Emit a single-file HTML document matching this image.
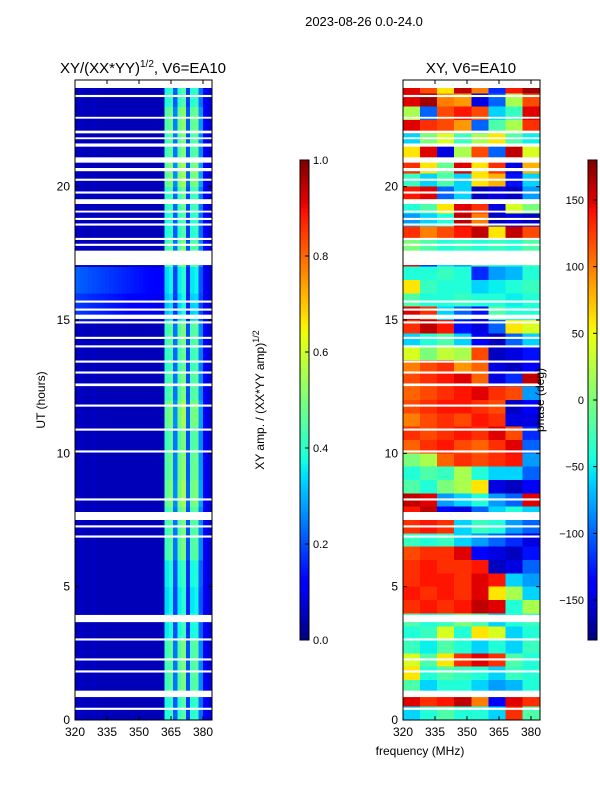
<!DOCTYPE html>
<html><head><meta charset="utf-8"><style>
html,body{margin:0;padding:0;background:#fff;}
svg{display:block;font-family:"Liberation Sans",sans-serif;}
</style></head><body>
<svg id="fig" width="600" height="800" viewBox="0 0 600 800" xmlns="http://www.w3.org/2000/svg">
<text x="364" y="26" font-size="13" text-anchor="middle">2023-08-26 0.0-24.0</text>
<g id="left"></g>
<g id="right"></g>
<g id="cb1"></g>
<g id="cb2"></g>
<text x="143" y="73" font-size="15" text-anchor="middle">XY/(XX*YY)<tspan font-size="10" dy="-6">1/2</tspan><tspan dy="6">, V6=EA10</tspan></text>
<text x="471" y="73" font-size="15" text-anchor="middle">XY, V6=EA10</text>
<text transform="translate(45,400) rotate(-90)" font-size="12" text-anchor="middle">UT (hours)</text>
<text transform="translate(264,400) rotate(-90)" font-size="12" text-anchor="middle">XY amp. / (XX*YY amp)<tspan font-size="9" dy="-5">1/2</tspan></text>
<text transform="translate(544,400) rotate(-90)" font-size="12" text-anchor="middle">phase (deg)</text>
<text x="420" y="755" font-size="12" text-anchor="middle">frequency (MHz)</text>
</svg>
<script>
// ---- data ----
const freqTicks = [320,335,350,365,380];
const hourTicks = [0,5,10,15,20];
const ampTicks = ["0.0","0.2","0.4","0.6","0.8","1.0"];
const phaseTicks = [-150,-100,-50,0,50,100,150];
// flagged (white) hour intervals
const gapStart = [23.36,22.55,22.0,21.78,21.5,20.9,20.58,20.22,19.74,19.35,19.03,18.75,18.54,18.0,17.78,17.06,15.65,15.35,15.04,14.87,14.29,13.97,13.4,12.99,12.52,11.75,10.85,10.03,8.23,7.5,7.22,6.84,3.67,2.98,2.23,1.78,0.86,0.38];
const gapEnd   = [23.44,22.62,22.1,21.85,21.62,21.1,20.7,20.3,19.82,19.53,19.1,18.83,18.62,18.08,17.86,17.6,15.73,15.43,15.2,14.95,14.37,14.05,13.48,13.07,12.62,11.83,10.93,10.11,8.31,7.8,7.3,6.92,3.94,3.06,2.31,1.86,1.1,0.46];
// amplitude: column profile (2 MHz columns 320-384)
const ampCols = [0.05,0.06,0.05,0.05,0.06,0.05,0.05,0.05,0.05,0.05,0.05,0.05,0.05,0.05,0.05,0.05,0.05,0.05,0.05,0.05,0.05,0.42,0.46,0.24,0.45,0.5,0.2,0.44,0.46,0.26,0.1,0.08];
// hourly background level and stripe scaling (hour 0..23)
const ampBg = [0.05,0.05,0.05,0.05,0.05,0.05,0.05,0.05,0.05,0.05,0.05,0.05,0.05,0.05,0.05,0.18,0.22,0.05,0.05,0.05,0.05,0.05,0.05,0.05];
const ampScale = [0.9,1.0,1.0,0.85,0.8,0.85,1.0,1.0,1.1,1.05,1.0,1.1,1.0,0.95,1.0,0.75,0.8,1.0,0.9,0.95,1.1,1.0,1.05,0.9];
// phase matrix: 48 rows (top 23.5-24h first), 8 columns of 8 MHz
const phaseRows = [
[150,120,60,160,100,-120,140,170],[150,170,100,90,-150,-100,20,120],[20,-100,120,140,120,-60,-30,150],
[150,130,120,90,-100,-20,20,130],[-60,0,40,-30,20,60,-20,-50],[60,150,-150,20,120,-100,160,40],
[130,60,-10,150,60,130,-150,80],[-30,-60,-20,-60,60,80,-130,-60],[140,150,-100,-60,-160,-150,-160,-80],
[-40,-20,60,150,130,-150,40,0],[-80,-60,-40,160,100,-160,-150,-160],[130,100,120,140,160,60,160,120],
[0,-20,-40,-30,-40,-30,-40,-20],[150,-120,-60,-80,-20,-30,-40,-20],[-40,-40,-30,-40,-120,-80,-70,-40],
[60,-30,-40,-40,-60,-50,-40,-30],[-20,-40,-40,-30,-40,-40,-50,-40],[150,130,-60,-100,-130,-20,-40,-40],
[130,160,140,-130,-150,-100,60,40],[-60,-40,-20,-60,-140,-160,-100,-60],[40,0,30,20,120,-160,-150,-130],
[100,120,130,90,110,-150,-160,-140],[120,130,140,150,110,-150,-120,160],[110,120,130,140,150,130,120,-80],
[120,130,140,140,130,120,-160,-140],[100,120,130,120,140,130,-150,-150],[130,120,130,140,130,150,120,-120],
[110,130,140,120,110,130,150,-100],[0,20,110,130,120,130,140,-80],[-40,-20,-30,20,-40,-60,-60,-100],
[-20,-40,0,20,60,-150,-160,-140],[160,150,-80,-60,-40,-80,-100,150],[140,160,-140,-150,-100,-60,-40,-60],
[130,140,130,-60,-30,-40,-80,-100],[-30,-40,-30,-60,-80,-100,-120,-150],[120,130,130,150,-140,-150,-160,-130],
[130,140,130,130,140,-160,-150,-100],[130,140,140,130,150,140,-60,-80],[140,130,140,130,150,60,20,-60],
[130,140,130,140,160,150,-40,20],[-20,-40,-30,0,-20,-60,-40,-30],[-40,-30,40,-40,60,40,-60,-40],
[-30,-50,-20,-40,-60,-40,-60,-30],[40,-20,60,130,150,130,-20,-40],[60,-40,-20,-30,-40,-60,-30,-40],
[-20,-60,-40,-40,-60,-80,-70,-40],[150,130,140,160,100,-140,150,130],[-60,-40,-20,-40,-40,-60,130,-20]
];
// ---- scales ----
const NS="http://www.w3.org/2000/svg";
const T=80,B=720;
function yH(h){return B-(h/24)*(B-T);}
function xF(x0,f){return x0+(f-320)*(32/15);}
function jet(v){v=Math.max(0,Math.min(1,v));
 const r=v<0.35?0:v<0.66?(v-0.35)/0.31:v<0.89?1:1-(v-0.89)/0.11*0.5;
 const g=v<0.125?0:v<0.375?(v-0.125)/0.25:v<0.64?1:v<0.91?1-(v-0.64)/0.27:0;
 const b=v<0.11?0.5+v/0.11*0.5:v<0.34?1:v<0.65?1-(v-0.34)/0.31:0;
 return `rgb(${Math.round(r*255)},${Math.round(g*255)},${Math.round(b*255)})`;}
function el(tag,attrs,parent){const e=document.createElementNS(NS,tag);for(const k in attrs)e.setAttribute(k,attrs[k]);parent.appendChild(e);return e;}
// ---- left panel ----
const L=document.getElementById('left');
for(let h=0;h<24;h++){
 for(let c=0;c<ampCols.length;c++){
  const base=ampCols[c];
  const v=base>0.15?base*ampScale[h]:Math.max(base,ampBg[h]*(1-c/40));
  const r=el('rect',{x:xF(75,320+c*2),y:yH(h+1),width:32/15*2+0.3,height:(B-T)/24+0.3,fill:jet(v),'shape-rendering':'crispEdges'},L);
  
  
 }
}
// ---- right panel ----
const R=document.getElementById('right');
for(let i=0;i<phaseRows.length;i++){
 const hTop=24-i*0.5;
 for(let c=0;c<8;c++){
  const r=el('rect',{x:xF(403,320+c*8),y:yH(hTop),width:32/15*8+0.3,height:(B-T)/48+0.3,fill:jet((phaseRows[i][c]+180)/360),'shape-rendering':'crispEdges'},R);
  
  
 }
}
// top blank strip above data, gaps
[[L,75],[R,403]].forEach(([g,x0])=>{
 el('rect',{x:x0,y:T,width:137,height:yH(23.7)-T,fill:'#fff'},g);
 for(let i=0;i<gapStart.length;i++){
  const r=el('rect',{x:x0,y:yH(gapEnd[i]),width:137,height:yH(gapStart[i])-yH(gapEnd[i]),fill:'#fff'},g);
  
  
 }
 const f=el('rect',{x:x0,y:T,width:137,height:B-T,fill:'none',stroke:'#000','stroke-width':1},g);
 
 
 freqTicks.forEach(fq=>{const x=xF(x0,fq);
  el('line',{x1:x,x2:x,y1:B,y2:B-4,stroke:'#000'},g);el('line',{x1:x,x2:x,y1:T,y2:T+4,stroke:'#000'},g);
  const t=el('text',{x:x,y:B+16,'font-size':12,'text-anchor':'middle'},g);t.textContent=fq;
  
  });
 hourTicks.forEach(h=>{const y=yH(h);
  el('line',{x1:x0,x2:x0+4,y1:y,y2:y,stroke:'#000'},g);el('line',{x1:x0+133,x2:x0+137,y1:y,y2:y,stroke:'#000'},g);
  const t=el('text',{x:x0-5,y:y+4,'font-size':12,'text-anchor':'end'},g);t.textContent=h;
  
  });
});
// ---- colorbars ----
function colorbar(id,x0,labels,vals,vmin,vmax){
 const g=document.getElementById(id);
 for(let i=0;i<120;i++){el('rect',{x:x0,y:640-(i+1)*4,width:9,height:4.3,fill:jet((i+0.5)/120),'shape-rendering':'crispEdges'},g);}
 el('rect',{x:x0,y:160,width:9,height:480,fill:'none',stroke:'#000'},g);
 vals.forEach((v,i)=>{const y=640-(v-vmin)/(vmax-vmin)*480;
  el('line',{x1:x0+9,x2:x0+5,y1:y,y2:y,stroke:'#000'},g);
  const t=el('text',{x:x0+13,y:y+4,'font-size':11,'text-anchor':'start'},g);t.textContent=labels[i];
  
  });
}
colorbar('cb1',300,ampTicks,ampTicks.map(Number),0,1);
colorbar('cb2',588,phaseTicks.map(v=>v<0?'\u2212'+(-v):String(v)),phaseTicks,-180,180);
// right colorbar labels are left of bar in reference
document.querySelectorAll('#cb2 text').forEach(t=>{t.setAttribute('x',584);t.setAttribute('text-anchor','end');});
</script>
</body></html>
